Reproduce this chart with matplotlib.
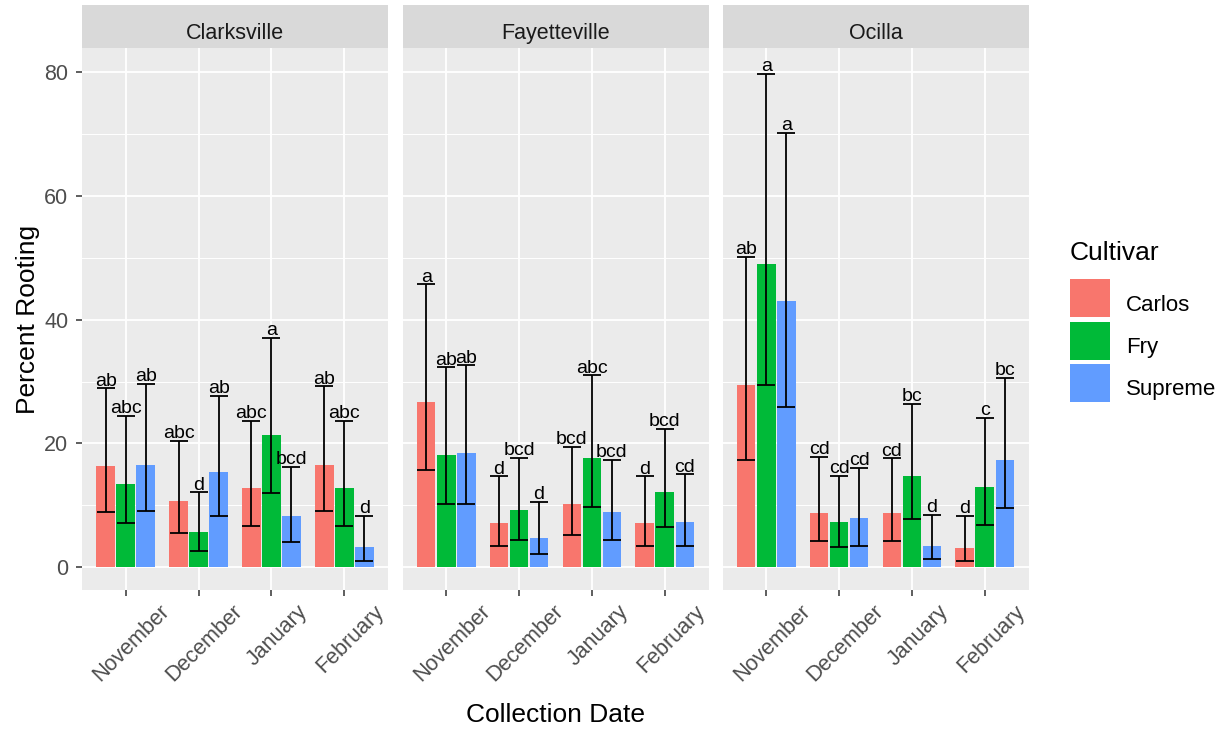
import matplotlib
matplotlib.use("Agg")
import matplotlib.pyplot as plt
import matplotlib.transforms as mtransforms
import numpy as np
from matplotlib.patches import Rectangle

plt.rcParams['font.family'] = ['Liberation Sans', 'DejaVu Sans']

# Categories
sites = ["Clarksville", "Fayetteville", "Ocilla"]
months = ["November", "December", "January", "February"]
cultivars = ["Carlos", "Fry", "Supreme"]
colors = ["#F8766D", "#00BA38", "#619CFF"]

# Percent rooting (rows: site, cols: month)
carlos_mean = [[16.4, 10.7, 12.8, 16.6], [26.7, 7.2, 10.2, 7.2], [29.5, 8.8, 8.8, 3.1]]
carlos_lo = [[8.9, 5.6, 6.7, 9.1], [15.7, 3.5, 5.3, 3.5], [17.3, 4.2, 4.2, 1.0]]
carlos_hi = [[28.9, 20.4, 23.6, 29.2], [45.7, 14.7, 19.4, 14.7], [50.1, 17.8, 17.6, 8.3]]
carlos_letters = [["ab", "abc", "abc", "ab"], ["a", "d", "bcd", "d"], ["ab", "cd", "cd", "d"]]

fry_mean = [[13.4, 5.7, 21.4, 12.8], [18.1, 9.2, 17.6, 12.2], [48.9, 7.3, 14.7, 12.9]]
fry_lo = [[7.1, 2.6, 12.0, 6.7], [10.3, 4.4, 9.7, 6.5], [29.4, 3.3, 7.8, 6.9]]
fry_hi = [[24.5, 12.1, 37.0, 23.6], [32.3, 17.7, 31.0, 22.4], [79.7, 14.8, 26.4, 24.1]]
fry_letters = [["abc", "d", "a", "abc"], ["ab", "bcd", "abc", "bcd"], ["a", "cd", "bc", "c"]]

supreme_mean = [[16.6, 15.4, 8.3, 3.3], [18.4, 4.8, 9.0, 7.4], [43.0, 7.9, 3.4, 17.4]]
supreme_lo = [[9.1, 8.3, 4.1, 1.1], [10.3, 2.1, 4.4, 3.5], [25.9, 3.5, 1.3, 9.5]]
supreme_hi = [[29.6, 27.7, 16.2, 8.3], [32.6, 10.6, 17.4, 15.0], [70.2, 16.1, 8.5, 30.6]]
supreme_letters = [["ab", "ab", "bcd", "d"], ["ab", "d", "bcd", "cd"], ["a", "cd", "d", "bc"]]

means = [carlos_mean, fry_mean, supreme_mean]
los = [carlos_lo, fry_lo, supreme_lo]
his = [carlos_hi, fry_hi, supreme_hi]
letters = [carlos_letters, fry_letters, supreme_letters]

W, H = 1225, 732
fig = plt.figure(figsize=(W / 100, H / 100), dpi=100)


def px(x0, y0, w, h):
    # pixel box (top-left origin) -> figure fraction
    return [x0 / W, 1 - (y0 + h) / H, w / W, h / H]


x = np.arange(1, len(months) + 1)
dodge = 0.275
barw = 0.255
panel_left = [82, 402.5, 722.5]
panel_w = 306
top, bottom = 47.7, 590
label_shift = mtransforms.ScaledTranslation(6 / 100, -3 / 100, fig.dpi_scale_trans)

for s, site in enumerate(sites):
    ax = fig.add_axes(px(panel_left[s], top, panel_w, bottom - top))
    ax.set_facecolor("#EBEBEB")
    for sp in ax.spines.values():
        sp.set_visible(False)
    ax.set_xlim(0.4, 4.6)
    ax.set_ylim(-3.66, 83.9)
    ax.set_yticks([0, 20, 40, 60, 80])
    ax.set_yticks([10, 30, 50, 70], minor=True)
    ax.set_xticks(x)
    ax.grid(True, which="major", color="white", lw=1.3)
    ax.grid(True, which="minor", axis="y", color="white", lw=0.7)
    ax.set_axisbelow(True)
    ax.tick_params(axis="both", which="major", length=4.3, width=1.1, color="#333333",
                   labelcolor="#4D4D4D", labelsize=15.5)
    ax.tick_params(axis="y", pad=5.5)
    ax.tick_params(axis="x", pad=1.5)
    ax.tick_params(which="minor", length=0)
    ax.set_xticklabels(months, rotation=45, ha="center", va="top")
    for lab in ax.get_xticklabels():
        lab.set_transform(lab.get_transform() + label_shift)
    if s > 0:
        ax.tick_params(axis="y", left=False, labelleft=False)

    for c in range(len(cultivars)):
        xs = x + (c - 1) * dodge
        m = np.array(means[c][s])
        lo = np.array(los[c][s])
        hi = np.array(his[c][s])
        ax.bar(xs, m, width=barw, color=colors[c], zorder=2)
        ax.errorbar(xs, m, yerr=[m - lo, hi - m], fmt="none", ecolor="black",
                    elinewidth=1.3, capsize=6.7, capthick=1.3, zorder=3)
        for xi, yi, lab in zip(xs, hi, letters[c][s]):
            ax.annotate(lab, (xi, yi), xytext=(0, 2), textcoords="offset points",
                        ha="center", va="baseline", fontsize=14, color="black", zorder=4)

    strip = fig.add_axes(px(panel_left[s], 5, panel_w, top - 5))
    strip.set_facecolor("#D9D9D9")
    strip.set_xticks([])
    strip.set_yticks([])
    for sp in strip.spines.values():
        sp.set_visible(False)
    strip.text(0.5, (top - 39.3) / (top - 5), site, ha="center", va="baseline",
               fontsize=15.5, color="#1A1A1A", transform=strip.transAxes)

fig.text(28 / W, 1 - 319 / H, "Percent Rooting", rotation=90, ha="center", va="center",
         fontsize=19, color="black")
fig.text(555 / W, 1 - 715 / H, "Collection Date", ha="center", va="center",
         fontsize=19, color="black")

# legend (ggplot style)
fig.text(1070 / W, 1 - 260 / H, "Cultivar", ha="left", va="baseline",
         fontsize=19, color="black")
for i, (name, col) in enumerate(zip(cultivars, colors)):
    ytop = 279.3 + i * 42.3
    fig.add_artist(Rectangle((1070 / W, 1 - (ytop + 38) / H), 40 / W, 38 / H,
                             facecolor=col, edgecolor="none", transform=fig.transFigure))
    fig.text(1126 / W, 1 - (ytop + 31.4) / H, name, ha="left", va="baseline",
             fontsize=16, color="black")

fig.savefig("out.png", dpi=100)
